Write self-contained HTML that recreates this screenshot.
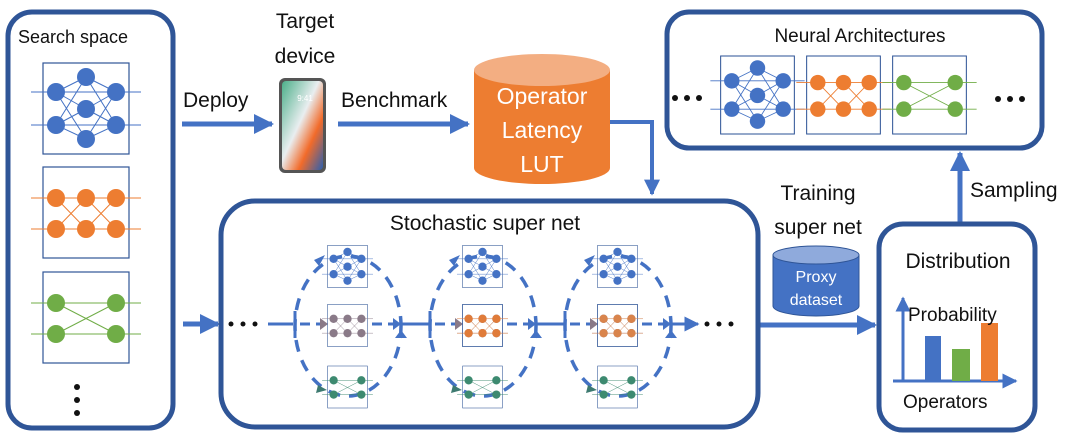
<!DOCTYPE html>
<html><head><meta charset="utf-8"><style>
html,body{margin:0;padding:0;background:#fff;}
svg{display:block;font-family:"Liberation Sans","DejaVu Sans",sans-serif;}
</style></head><body>
<svg width="1080" height="438" viewBox="0 0 1080 438" xmlns="http://www.w3.org/2000/svg">
<defs>
  <symbol id="nb" viewBox="-12 0 110 91" overflow="visible">
    <rect x="0" y="0" width="86" height="91" fill="none" stroke="#2f5597" stroke-width="1.2"/>
    <g stroke="currentColor" stroke-width="1" fill="none">
      <path d="M-12 29H98M-12 62H98"/>
      <path d="M13 29L43 14M13 29L43 46M13 29L43 76M13 62L43 14M13 62L43 46M13 62L43 76M73 29L43 14M73 29L43 46M73 29L43 76M73 62L43 14M73 62L43 46M73 62L43 76"/>
    </g>
    <g fill="currentColor"><circle cx="13" cy="29" r="9"/><circle cx="13" cy="62" r="9"/><circle cx="43" cy="14" r="9"/><circle cx="43" cy="46" r="9"/><circle cx="43" cy="76" r="9"/><circle cx="73" cy="29" r="9"/><circle cx="73" cy="62" r="9"/></g>
  </symbol>
  <symbol id="no" viewBox="-12 0 110 91" overflow="visible">
    <rect x="0" y="0" width="86" height="91" fill="none" stroke="#2f5597" stroke-width="1.2"/>
    <g stroke="currentColor" stroke-width="1" fill="none">
      <path d="M-12 31H98M-12 62H98M13 31L43 62M13 62L43 31M43 31L73 62M43 62L73 31"/>
    </g>
    <g fill="currentColor"><circle cx="13" cy="31" r="9"/><circle cx="13" cy="62" r="9"/><circle cx="43" cy="31" r="9"/><circle cx="43" cy="62" r="9"/><circle cx="73" cy="31" r="9"/><circle cx="73" cy="62" r="9"/></g>
  </symbol>
  <symbol id="ng" viewBox="-12 0 110 91" overflow="visible">
    <rect x="0" y="0" width="86" height="91" fill="none" stroke="#2f5597" stroke-width="1.2"/>
    <g stroke="currentColor" stroke-width="1" fill="none">
      <path d="M-12 31H98M-12 62H98M13 31L73 62M13 62L73 31"/>
    </g>
    <g fill="currentColor"><circle cx="13" cy="31" r="9"/><circle cx="13" cy="62" r="9"/><circle cx="73" cy="31" r="9"/><circle cx="73" cy="62" r="9"/></g>
  </symbol>
  <marker id="ah" viewBox="0 0 10 10" refX="9" refY="5" markerWidth="4" markerHeight="4" orient="auto"><path d="M0 0L10 5L0 10z" fill="#4472c4"/></marker>
  <marker id="sh" viewBox="0 0 10 10" refX="9" refY="5" markerWidth="5" markerHeight="5" orient="auto"><path d="M0 0L10 5L0 10z" fill="#4472c4"/></marker>
  <linearGradient id="ph" x1="0" y1="0" x2="1" y2="1">
    <stop offset="0" stop-color="#4caf8a"/><stop offset="0.45" stop-color="#e9eef0"/><stop offset="0.7" stop-color="#f26b2a"/><stop offset="1" stop-color="#2a5fb0"/>
  </linearGradient>
</defs>

<!-- Search space -->
<rect x="8" y="12" width="165" height="416" rx="24" fill="none" stroke="#2f5597" stroke-width="5"/>
<text x="18" y="43" font-size="18" fill="#111">Search space</text>
<use href="#nb" x="31" y="63" width="110" height="91" color="#4472c4"/>
<use href="#no" x="31" y="167" width="110" height="91" color="#ed7d31"/>
<use href="#ng" x="31" y="272" width="110" height="91" color="#70ad47"/>
<circle cx="77" cy="387" r="3" fill="#111"/><circle cx="77" cy="400" r="3" fill="#111"/><circle cx="77" cy="413" r="3" fill="#111"/>

<!-- Deploy -->
<text x="183" y="107" font-size="21" fill="#111">Deploy</text>
<line x1="182" y1="124" x2="272" y2="124" stroke="#4472c4" stroke-width="5" marker-end="url(#ah)"/>
<text x="305" y="28" font-size="21" fill="#111" text-anchor="middle">Target</text>
<text x="305" y="63" font-size="21" fill="#111" text-anchor="middle">device</text>
<rect x="279" y="78" width="47" height="95" rx="6" fill="#555"/>
<rect x="282" y="81" width="41" height="89" rx="4" fill="url(#ph)"/>
<text x="305" y="101" font-size="8" fill="#fff" text-anchor="middle">9:41</text>

<!-- Benchmark -->
<text x="341" y="107" font-size="21" fill="#111">Benchmark</text>
<line x1="338" y1="124" x2="468" y2="124" stroke="#4472c4" stroke-width="5" marker-end="url(#ah)"/>

<!-- LUT cylinder -->
<path d="M474 70V168A68 16 0 0 0 610 168V70z" fill="#ed7d31"/>
<ellipse cx="542" cy="70" rx="68" ry="16" fill="#f3ae82"/>
<text x="542" y="104" font-size="23" fill="#fff" text-anchor="middle">Operator</text>
<text x="542" y="138" font-size="23" fill="#fff" text-anchor="middle">Latency</text>
<text x="542" y="172" font-size="23" fill="#fff" text-anchor="middle">LUT</text>
<path d="M610 122H652V194" fill="none" stroke="#4472c4" stroke-width="4" marker-end="url(#ah)"/>

<!-- Neural Architectures -->
<rect x="667" y="12" width="375" height="136" rx="22" fill="none" stroke="#2f5597" stroke-width="5"/>
<text x="860" y="42" font-size="19" fill="#111" text-anchor="middle">Neural Architectures</text>
<use href="#nb" x="709" y="56" width="97" height="78" color="#4472c4"/>
<use href="#no" x="795" y="56" width="97" height="78" color="#ed7d31"/>
<use href="#ng" x="881" y="56" width="97" height="78" color="#70ad47"/>
<circle cx="675" cy="98" r="3" fill="#111"/><circle cx="687" cy="98" r="3" fill="#111"/><circle cx="699" cy="98" r="3" fill="#111"/>
<circle cx="998" cy="99" r="3" fill="#111"/><circle cx="1010" cy="99" r="3" fill="#111"/><circle cx="1022" cy="99" r="3" fill="#111"/>

<!-- Sampling -->
<line x1="960" y1="226" x2="960" y2="153" stroke="#4472c4" stroke-width="5" marker-end="url(#ah)"/>
<text x="970" y="197" font-size="21" fill="#111">Sampling</text>

<!-- Training super net -->
<text x="818" y="200" font-size="21" fill="#111" text-anchor="middle">Training</text>
<text x="818" y="234" font-size="21" fill="#111" text-anchor="middle">super net</text>
<path d="M773 255V306A43 10 0 0 0 859 306V255z" fill="#4472c4" stroke="#2f5597" stroke-width="1"/>
<ellipse cx="816" cy="255" rx="43" ry="9" fill="#8faadc" stroke="#2f5597" stroke-width="1"/>
<text x="816" y="282" font-size="16" fill="#fff" text-anchor="middle">Proxy</text>
<text x="816" y="305" font-size="16" fill="#fff" text-anchor="middle">dataset</text>
<line x1="760" y1="325" x2="875" y2="325" stroke="#4472c4" stroke-width="5" marker-end="url(#ah)"/>

<!-- Distribution -->
<rect x="879" y="224" width="156" height="206" rx="24" fill="none" stroke="#2f5597" stroke-width="5"/>
<text x="958" y="268" font-size="21" fill="#111" text-anchor="middle">Distribution</text>
<line x1="903" y1="382" x2="903" y2="298" stroke="#4472c4" stroke-width="3" marker-end="url(#sh)"/>
<line x1="893" y1="381" x2="1016" y2="381" stroke="#4472c4" stroke-width="3" marker-end="url(#sh)"/>
<rect x="925" y="336" width="16" height="45" fill="#4472c4"/>
<rect x="952" y="349" width="18" height="32" fill="#70ad47"/>
<rect x="981" y="323" width="17" height="58" fill="#ed7d31"/>
<text x="908" y="321" font-size="19" fill="#111">Probability</text>
<text x="903" y="408" font-size="19" fill="#111">Operators</text>

<!-- Search -> supernet arrow -->
<line x1="183" y1="324" x2="218" y2="324" stroke="#4472c4" stroke-width="5" marker-end="url(#ah)"/>

<!-- Stochastic super net -->
<rect x="221" y="201" width="537" height="226" rx="34" fill="none" stroke="#2f5597" stroke-width="5"/>
<text x="485" y="230" font-size="21" fill="#111" text-anchor="middle">Stochastic super net</text>
<circle cx="231" cy="324" r="2.5" fill="#111"/><circle cx="243" cy="324" r="2.5" fill="#111"/><circle cx="255" cy="324" r="2.5" fill="#111"/>
<circle cx="707" cy="324" r="2.5" fill="#111"/><circle cx="719" cy="324" r="2.5" fill="#111"/><circle cx="731" cy="324" r="2.5" fill="#111"/>
<line x1="268" y1="324" x2="293" y2="324" stroke="#4472c4" stroke-width="3"/>
<g stroke="#4472c4" stroke-width="3" fill="none">
  <line x1="400" y1="324" x2="430" y2="324"/>
  <line x1="535" y1="324" x2="565" y2="324"/>
  <line x1="670" y1="324" x2="698" y2="324" marker-end="url(#sh)"/>
</g>
<g id="cell">
  <ellipse cx="348" cy="326" rx="53" ry="70" fill="none" stroke="#4472c4" stroke-width="3.5" stroke-dasharray="12 9"/>
  <line x1="295" y1="311" x2="295" y2="338" stroke="#4472c4" stroke-width="3"/>
  <line x1="300" y1="324" x2="320" y2="324" stroke="#4472c4" stroke-width="3" stroke-dasharray="10 6"/>
  <line x1="372" y1="324" x2="398" y2="324" stroke="#4472c4" stroke-width="3" stroke-dasharray="10 6"/>
  <path d="M320 318L328 324L320 330z" fill="#8a7a88"/>
  <path d="M393 318L401 324L393 330z" fill="#4472c4"/>
  <path d="M395 338L401 330L407 338z" fill="#4472c4"/>
  <path d="M314 260L325 255L319 266z" fill="#4472c4"/>
  <path d="M318 385L327 390L316 393z" fill="#3d7a70"/>
  <use href="#nb" x="322" y="245" width="51" height="43" color="#4472c4"/>
  <use href="#no" x="322" y="304" width="51" height="43" color="#8a7a88"/>
  <use href="#ng" x="322" y="366" width="51" height="42" color="#3d8a70"/>
</g>
<use href="#cell" x="135" y="0"/>
<use href="#cell" x="270" y="0"/>
<use href="#no" x="457" y="304" width="51" height="43" color="#e07b39"/>
<use href="#no" x="592" y="304" width="51" height="43" color="#d9844c"/>
</svg>
</body></html>
